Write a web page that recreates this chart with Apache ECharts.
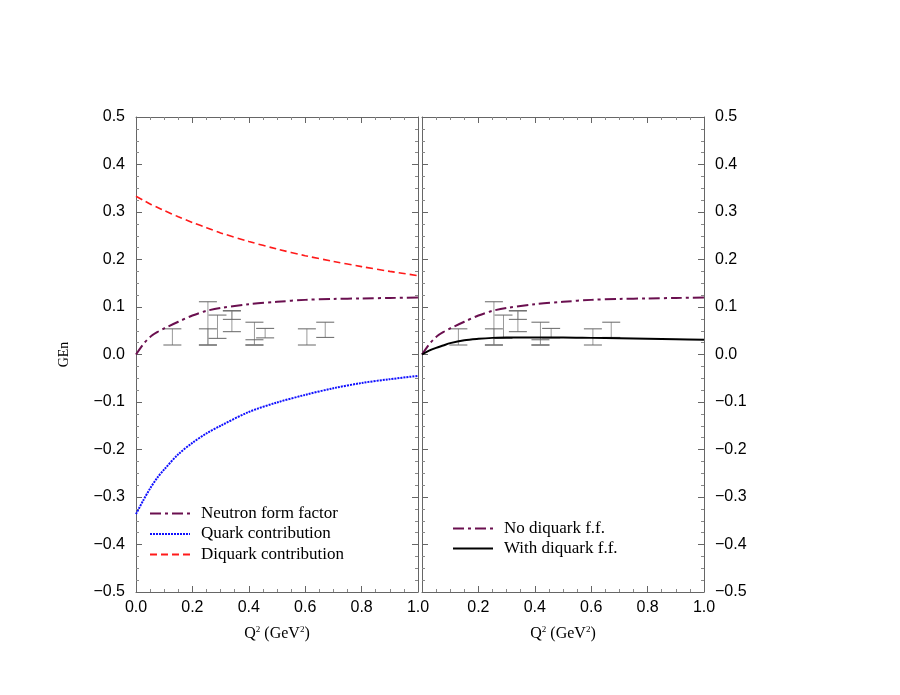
<!DOCTYPE html>
<html>
<head>
<meta charset="utf-8">
<script src="https://cdn.jsdelivr.net/npm/echarts@6/dist/echarts.min.js"></script>
<style>
  html, body { margin: 0; padding: 0; background: #fff; }
  #chart { width: 900px; height: 695px; }
</style>
</head>
<body>
<div id="chart"></div>
<script>
// Q^2 grid used for all curves
var q2 = [0, 0.025, 0.05, 0.075, 0.1, 0.15, 0.2, 0.25, 0.3, 0.4, 0.5, 0.6, 0.7, 0.8, 0.9, 1.0];
// left panel
var neutronFF = [0, 0.021, 0.037, 0.047, 0.055, 0.069, 0.082, 0.092, 0.098, 0.106, 0.111, 0.115, 0.117, 0.118, 0.119, 0.120];
var quarkContrib = [-0.336, -0.308, -0.282, -0.260, -0.242, -0.210, -0.186, -0.166, -0.150, -0.121, -0.101, -0.085, -0.071, -0.060, -0.052, -0.045];
var diquarkContrib = [0.333, 0.325, 0.317, 0.310, 0.303, 0.290, 0.278, 0.267, 0.256, 0.238, 0.222, 0.208, 0.196, 0.185, 0.175, 0.166];
// right panel
var noDiquarkFF = [0, 0.021, 0.037, 0.047, 0.055, 0.069, 0.082, 0.092, 0.098, 0.106, 0.111, 0.115, 0.117, 0.118, 0.119, 0.120];
var withDiquarkFF = [0, 0.008, 0.014, 0.019, 0.024, 0.030, 0.033, 0.035, 0.036, 0.036, 0.036, 0.035, 0.034, 0.033, 0.032, 0.031];
// experimental points: [Q2, low, high]
var expData = [
  [0.129, 0.020, 0.054],
  [0.255, 0.020, 0.111],
  [0.255, 0.020, 0.054],
  [0.289, 0.034, 0.083],
  [0.340, 0.048, 0.092],
  [0.340, 0.074, 0.092],
  [0.420, 0.020, 0.068],
  [0.420, 0.020, 0.031],
  [0.458, 0.035, 0.055],
  [0.606, 0.020, 0.054],
  [0.671, 0.036, 0.068]
];

function pairs(ys) {
  return q2.map(function (x, i) { return [x, ys[i]]; });
}

var serif = 'Liberation Serif';
var sans = 'Liberation Sans';
var frame = '#666';

function xAx(grid, pos, labels, hideMin) {
  return {
    type: 'value', gridIndex: grid, position: pos, min: 0, max: 1, interval: 0.2,
    axisLine: { show: true, onZero: false, lineStyle: { color: frame, width: 1 } },
    axisTick: { show: true, inside: true, length: 6, lineStyle: { color: frame } },
    minorTick: { show: true, splitNumber: 4, length: 3, lineStyle: { color: '#888' } },
    splitLine: { show: false },
    axisLabel: { show: labels, showMinLabel: !hideMin, margin: 8, color: '#000', fontFamily: sans, fontSize: 16,
      formatter: function (v) { return v.toFixed(1); } },
    name: labels ? '{a|Q}{s|2}{a| (GeV}{s|2}{a|)}' : '',
    nameLocation: 'middle', nameGap: 33,
    nameTextStyle: { rich: {
      a: { fontFamily: serif, fontSize: 16, color: '#000', lineHeight: 18 },
      s: { fontFamily: serif, fontSize: 9, color: '#000', verticalAlign: 'top', lineHeight: 18 }
    } }
  };
}

function yAx(grid, pos, labels, name) {
  return {
    type: 'value', gridIndex: grid, position: pos, min: -0.5, max: 0.5, interval: 0.1,
    axisLine: { show: true, onZero: false, lineStyle: { color: frame, width: 1 } },
    axisTick: { show: true, inside: true, length: 6, lineStyle: { color: frame } },
    minorTick: { show: true, splitNumber: 4, length: 3, lineStyle: { color: '#888' } },
    splitLine: { show: false },
    axisLabel: { show: labels, margin: 11, color: '#000', fontFamily: sans, fontSize: 16,
      formatter: function (v) { return (v < 0 ? '\u2212' : '') + Math.abs(v).toFixed(1); } },
    name: name || '', nameLocation: 'middle', nameGap: 65, nameRotate: 90,
    nameTextStyle: { fontFamily: serif, fontSize: 14, color: '#000' }
  };
}

function errBars(xi, yi) {
  return {
    type: 'custom', name: 'data', xAxisIndex: xi, yAxisIndex: yi, z: 1,
    encode: { x: 0, y: [1, 2] },
    data: expData,
    renderItem: function (params, api) {
      var lo = api.coord([api.value(0), api.value(1)]);
      var hi = api.coord([api.value(0), api.value(2)]);
      var w = 9;
      return {
        type: 'group',
        children: [
          { type: 'line', shape: { x1: lo[0], y1: lo[1], x2: hi[0], y2: hi[1] }, style: { stroke: '#999', lineWidth: 1 } },
          { type: 'line', shape: { x1: lo[0] - w, y1: lo[1], x2: lo[0] + w, y2: lo[1] }, style: { stroke: '#666', lineWidth: 1 } },
          { type: 'line', shape: { x1: hi[0] - w, y1: hi[1], x2: hi[0] + w, y2: hi[1] }, style: { stroke: '#666', lineWidth: 1 } }
        ]
      };
    }
  };
}

function curve(name, ys, xi, yi, color, type, width) {
  return {
    type: 'line', name: name, xAxisIndex: xi, yAxisIndex: yi, data: pairs(ys),
    symbol: 'none', smooth: 0.3, z: 3,
    lineStyle: { color: color, type: type, width: width },
    itemStyle: { color: color }
  };
}

var purple = '#6a0f4f';
var dashDot = [11, 4, 3, 4];

var legendText = { fontFamily: serif, fontSize: 17, lineHeight: 14, color: '#000', padding: [0, 0, 0, 6] };

var chart = echarts.init(document.getElementById('chart'));
chart.setOption({
  backgroundColor: '#fff',
  animation: false,
  grid: [
    { left: 136, top: 117, width: 282, height: 475 },
    { left: 422, top: 117, width: 282, height: 475 }
  ],
  xAxis: [
    xAx(0, 'bottom', true, false),
    xAx(0, 'top', false, false),
    xAx(1, 'bottom', true, true),
    xAx(1, 'top', false, false)
  ],
  yAxis: [
    yAx(0, 'left', true, 'GEn'),
    yAx(0, 'right', false),
    yAx(1, 'left', false),
    yAx(1, 'right', true)
  ],
  legend: [
    {
      data: ['Neutron form factor', 'Quark contribution', 'Diquark contribution'],
      orient: 'vertical', left: 144, top: 500, itemWidth: 40, itemHeight: 14, itemGap: 3.5,
      itemStyle: { opacity: 0 },
      textStyle: legendText,
      selectedMode: false
    },
    {
      data: ['No diquark f.f.', 'With diquark f.f.'],
      orient: 'vertical', left: 447, top: 515, itemWidth: 40, itemHeight: 14, itemGap: 3,
      itemStyle: { opacity: 0 },
      textStyle: legendText,
      selectedMode: false
    }
  ],
  series: [
    errBars(0, 0),
    errBars(2, 2),
    curve('Neutron form factor', neutronFF, 0, 0, purple, dashDot, 2),
    curve('Quark contribution', quarkContrib, 0, 0, '#1010ff', [2, 1], 2),
    curve('Diquark contribution', diquarkContrib, 0, 0, '#ff1a1a', [7, 4], 1.6),
    curve('No diquark f.f.', noDiquarkFF, 2, 2, purple, dashDot, 2),
    curve('With diquark f.f.', withDiquarkFF, 2, 2, '#000', 'solid', 2)
  ]
});
</script>
</body>
</html>
